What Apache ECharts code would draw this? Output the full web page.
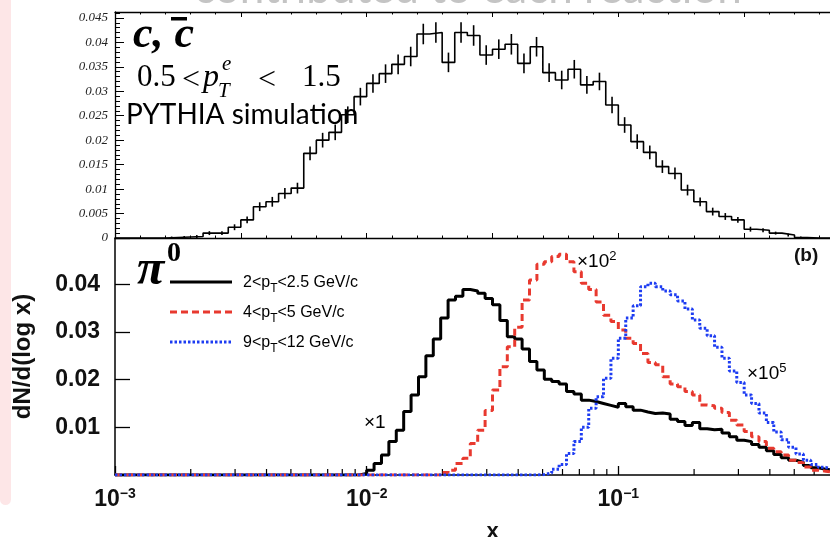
<!DOCTYPE html>
<html><head><meta charset="utf-8">
<script src="https://cdn.jsdelivr.net/npm/echarts@6/dist/echarts.min.js"></script>
<style>html,body{margin:0;padding:0;background:#fff}#c{width:830px;height:537px}</style>
</head><body><div id="c"></div>
<script>
// ---------- top panel (c, c-bar, PYTHIA): 60 bins of width 0.1 on [0, 6]
const topBinWidth = 0.1;
const topValues = [0,0,0,0,0.0001,0.0002,0.0003,0.0010,0.0010,0.0022,0.0037,0.0064,0.0074,0.0091,0.0102,
  0.0173,0.0200,0.0216,0.0252,0.0289,0.0316,0.0336,0.0355,0.0371,0.0417,0.0420,0.0359,0.0420,0.0414,0.0374,
  0.0386,0.0396,0.0357,0.0391,0.0338,0.0323,0.0345,0.0313,0.0320,0.0272,0.0231,0.0197,0.0175,0.0146,0.0132,
  0.0098,0.0074,0.0054,0.0044,0.0037,0.0018,0.0016,0.0010,0.0006,0.0001,0,0,0,0,0];
const topErrors = [0,0,0,0,0.0002,0.0002,0.0003,0.0004,0.0004,0.0006,0.0007,0.0009,0.0010,0.0011,0.0011,
  0.0014,0.0015,0.0016,0.0017,0.0018,0.0019,0.0019,0.0020,0.0020,0.0021,0.0021,0.0020,0.0021,0.0021,0.0020,
  0.0020,0.0021,0.0020,0.0020,0.0019,0.0019,0.0019,0.0018,0.0018,0.0017,0.0016,0.0015,0.0014,0.0013,0.0012,
  0.0011,0.0009,0.0008,0.0007,0.0006,0.0005,0.0004,0.0003,0.0003,0.0002,0,0,0,0,0];

// ---------- bottom panel (pi0): bins of 1/34 decade starting at x = 1e-3
const binsPerDecade = 34;
const blackStart = 33;
const blackValues = [0.0003,0.0010,0.0024,0.0042,0.0070,0.0094,0.0133,0.0168,0.0206,0.0250,0.0285,0.0329,0.0367,
  0.0375,0.0389,0.0386,0.0381,0.0370,0.0357,0.0324,0.0290,0.0285,0.0264,0.0238,0.0220,0.0201,0.0196,0.0191,
  0.0175,0.0170,0.0157,0.0154,0.0150,0.0146,0.0142,0.0150,0.0143,0.0136,0.0132,0.0129,0.0130,0.0128,0.0117,
  0.0112,0.0104,0.0110,0.0097,0.0095,0.0096,0.0088,0.0080,0.0073,0.0070,0.0064,0.0058,0.0051,0.0043,0.0036,
  0.0031,0.0027,0.0020,0.0015,0.0012,0.0010];
const redStart = 44;
const redValues = [0.0005,0.0010,0.0024,0.0035,0.0066,0.0094,0.0135,0.0178,0.0227,0.0269,0.0310,0.0367,0.0409,
  0.0442,0.0447,0.0458,0.0463,0.0447,0.0426,0.0402,0.0389,0.0363,0.0335,0.0322,0.0304,0.0287,0.0276,0.0255,
  0.0236,0.0231,0.0206,0.0191,0.0185,0.0175,0.0168,0.0147,0.0145,0.0140,0.0131,0.0115,0.0105,0.0091,0.0080,
  0.0070,0.0056,0.0049,0.0042,0.0031,0.0026,0.0017,0.0010,0.0008,0.0006];
const blueStart = 57;
const blueValues = [0.0001,0.0004,0.0012,0.0022,0.0045,0.0070,0.0100,0.0140,0.0164,0.0203,0.0245,0.0287,0.0329,
  0.0355,0.0395,0.0402,0.0395,0.0386,0.0378,0.0365,0.0348,0.0325,0.0308,0.0292,0.0268,0.0245,0.0218,0.0194,
  0.0168,0.0150,0.0130,0.0110,0.0090,0.0074,0.0058,0.0044,0.0031,0.0022,0.0016,0.0012];
const minorTickX = [0.002,0.003,0.004,0.005,0.006,0.007,0.008,0.009,0.02,0.03,0.04,0.05,0.06,0.07,0.08,0.09,0.2,0.3,0.4,0.5,0.6];
const seriesNames = ['2<p_T<2.5 GeV/c','4<p_T<5 GeV/c','9<p_T<12 GeV/c'];

const RED = '#e8392f', BLUE = '#1d3cf2';

function histLog(start, vals) {
  const n = start + vals.length, pts = [];
  for (let k = 0; k < n; k++) pts.push([Math.pow(10, -3 + k / binsPerDecade), k < start ? 0 : vals[k - start]]);
  pts.push([Math.pow(10, -3 + n / binsPerDecade), vals[vals.length - 1]]);
  return pts;
}
const topHist = topValues.map((v, k) => [k * topBinWidth, v]);
topHist.push([topValues.length * topBinWidth, topValues[topValues.length - 1]]);
const topErr = [];
topValues.forEach((v, k) => { if (v > 0) topErr.push([(k + 0.5) * topBinWidth, v, topErrors[k]]); });

const chart = echarts.init(document.getElementById('c'), null, {renderer: 'canvas'});
const axLine = {lineStyle: {color: '#000', width: 1.3}};
function legText(s) { const p = s.split('_'); return '{n|' + p[0] + '}{s|' + p[1][0] + '}{n|' + p[1].slice(1) + '}'; }
const legRich = {n: {fontFamily: 'Liberation Sans', fontSize: 16, color: '#111'}, s: {fontFamily: 'Liberation Sans', fontSize: 12, color: '#111', padding: [11, 0, 0, 0]}};
const shadow = {shadowBlur: 4, shadowColor: 'rgba(0,0,0,0.55)', shadowOffsetX: 2, shadowOffsetY: 2};

chart.setOption({
  animation: false,
  backgroundColor: '#fff',
  grid: [
    {left: 115, right: -40, top: 12, height: 226, containLabel: false, outerBoundsMode: 'none'},
    {left: 115, right: -40, top: 238, height: 237, containLabel: false, outerBoundsMode: 'none'}
  ],
  xAxis: [
    {gridIndex: 0, type: 'value', min: 0, max: 6, interval: 1, position: 'bottom', axisLine: axLine,
     axisTick: {inside: true, length: 5, lineStyle: {color: '#000'}}, minorTick: {show: true, splitNumber: 5, length: 2.5, lineStyle: {color: '#000'}},
     axisLabel: {show: false}, splitLine: {show: false}},
    {gridIndex: 0, type: 'value', min: 0, max: 6, interval: 1, position: 'top', axisLine: axLine,
     axisTick: {inside: true, length: 5, lineStyle: {color: '#000'}}, minorTick: {show: true, splitNumber: 5, length: 2.5, lineStyle: {color: '#000'}},
     axisLabel: {show: false}, splitLine: {show: false}},
    {gridIndex: 1, type: 'log', logBase: 10, min: 0.001, max: 1, position: 'bottom', axisLine: {lineStyle: {color: '#000', width: 1.5}},
     axisTick: {inside: true, length: 9, lineStyle: {color: '#000', width: 1.3}},
     axisLabel: {margin: 12, formatter: v => '{a|10}{b|' + String(Math.round(Math.log10(v))).replace('-', '−') + '}',
       rich: {a: {fontFamily: 'Liberation Sans', fontWeight: 'bold', fontSize: 23, color: '#111'},
              b: {fontFamily: 'Liberation Sans', fontWeight: 'bold', fontSize: 14, color: '#111', padding: [0, 0, 12, 0]}}},
     splitLine: {show: false}, minorTick: {show: false},
     name: 'x', nameLocation: 'middle', nameGap: 46,
     nameTextStyle: {fontFamily: 'Liberation Sans', fontWeight: 'bold', fontSize: 22, color: '#111'}}
  ],
  yAxis: [
    {gridIndex: 0, type: 'value', min: 0, max: 0.0462, interval: 0.005, axisLine: axLine,
     axisTick: {inside: true, length: 9, lineStyle: {color: '#000'}}, minorTick: {show: true, splitNumber: 5, length: 5, lineStyle: {color: '#000'}},
     axisLabel: {margin: 7, fontFamily: 'Liberation Serif', fontStyle: 'italic', fontSize: 13, color: '#222',
       formatter: v => v > 0.0455 ? '' : String(+v.toFixed(3))}, splitLine: {show: false}},
    {gridIndex: 1, type: 'value', min: 0, max: 0.0497, interval: 0.01, axisLine: {lineStyle: {color: '#000', width: 1.5}},
     axisTick: {inside: true, length: 15, lineStyle: {color: '#000', width: 1.3}},
     axisLabel: {margin: 15, formatter: v => (v === 0 || v > 0.045) ? '' : v.toFixed(2), fontFamily: 'Liberation Sans', fontWeight: 'bold', fontSize: 23, color: '#111'},
     splitLine: {show: false},
     name: 'dN/d(log x)', nameLocation: 'middle', nameGap: 80, nameRotate: 90,
     nameTextStyle: {fontFamily: 'Liberation Sans', fontWeight: 'bold', fontSize: 24, color: '#111'}}
  ],
  series: [
    {type: 'line', xAxisIndex: 0, yAxisIndex: 0, step: 'end', symbol: 'none', data: topHist,
     lineStyle: {color: '#000', width: 1.6}, z: 3},
    {type: 'custom', xAxisIndex: 0, yAxisIndex: 0, data: topErr, z: 3,
     renderItem: (params, api) => {
       const x = api.value(0), v = api.value(1), e = api.value(2);
       const a = api.coord([x, v - e]), b = api.coord([x, v + e]);
       return {type: 'line', shape: {x1: a[0], y1: a[1], x2: b[0], y2: b[1]}, style: {stroke: '#000', lineWidth: 1.6}};
     }},
    {name: seriesNames[0], type: 'line', xAxisIndex: 2, yAxisIndex: 1, step: 'end', symbol: 'none', data: histLog(blackStart, blackValues),
     lineStyle: {color: '#000', width: 3}, z: 3},
    {name: seriesNames[1], type: 'line', xAxisIndex: 2, yAxisIndex: 1, step: 'end', symbol: 'none', data: histLog(redStart, redValues),
     lineStyle: {color: RED, width: 3, type: [7, 4]}, z: 4},
    {name: seriesNames[2], type: 'line', xAxisIndex: 2, yAxisIndex: 1, step: 'end', symbol: 'none', data: histLog(blueStart, blueValues),
     lineStyle: {color: BLUE, width: 3, type: [2.5, 2]}, z: 5},
    {type: 'custom', xAxisIndex: 2, yAxisIndex: 1, data: minorTickX.map(x => [x, 0]), z: 2,
     renderItem: (params, api) => {
       const p = api.coord([api.value(0), 0]);
       return {type: 'line', shape: {x1: p[0], y1: p[1], x2: p[0], y2: p[1] - 6}, style: {stroke: '#000', lineWidth: 1.2}};
     }}
  ],
  graphic: [
    {type: 'rect', left: 0, top: 0, shape: {width: 11, height: 505, r: [0, 0, 6, 6]}, style: {fill: '#fde6e7'}, z: -10},
    {type: 'text', x: 468, y: -11, style: {text: 'contributed to each reaction', font: '44px Lato', fill: '#c4c4c4', align: 'center', verticalAlign: 'middle'}},
    // c, c-bar
    {type: 'text', x: 133, y: 36, style: Object.assign({text: 'c, c', font: 'italic bold 44px "Liberation Serif"', fill: '#000', verticalAlign: 'middle'}, shadow)},
    {type: 'rect', shape: {x: 171, y: 17, width: 16, height: 3.5}, style: {fill: '#000'}},
    {type: 'text', x: 137, y: 78, style: {text: '0.5', font: '31px "Liberation Serif"', fill: '#000', verticalAlign: 'middle'}},
    {type: 'text', x: 182, y: 81, style: {text: '<', font: '32px "Liberation Serif"', fill: '#000', verticalAlign: 'middle'}},
    {type: 'text', x: 203, y: 78, style: {text: 'p', font: 'italic 32px "Liberation Serif"', fill: '#000', verticalAlign: 'middle'}},
    {type: 'text', x: 218, y: 91, style: {text: 'T', font: 'italic 21px "Liberation Serif"', fill: '#000', verticalAlign: 'middle'}},
    {type: 'text', x: 222, y: 64, style: {text: 'e', font: 'italic 21px "Liberation Serif"', fill: '#000', verticalAlign: 'middle'}},
    {type: 'text', x: 258, y: 81, style: {text: '<', font: '32px "Liberation Serif"', fill: '#000', verticalAlign: 'middle'}},
    {type: 'text', x: 302, y: 78, style: {text: '1.5', font: '31px "Liberation Serif"', fill: '#000', verticalAlign: 'middle'}},
    {type: 'text', x: 126, y: 115, style: {text: 'PYTHIA simulation', font: '28px Lato', fill: '#000', verticalAlign: 'middle'}},
    // pi0
    {type: 'text', x: 137, y: 271, style: Object.assign({text: 'π', font: 'italic bold 50px "Liberation Serif"', fill: '#000', verticalAlign: 'middle'}, shadow)},
    {type: 'text', x: 167, y: 254, style: Object.assign({text: '0', font: 'bold 28px "Liberation Serif"', fill: '#000', verticalAlign: 'middle'}, shadow)},
    // legend
    {type: 'line', shape: {x1: 170, y1: 282, x2: 232, y2: 282}, style: {stroke: '#000', lineWidth: 3}},
    {type: 'line', shape: {x1: 170, y1: 312, x2: 232, y2: 312}, style: {stroke: RED, lineWidth: 3, lineDash: [7, 4]}},
    {type: 'line', shape: {x1: 170, y1: 342, x2: 232, y2: 342}, style: {stroke: BLUE, lineWidth: 3, lineDash: [2.5, 2]}},
    {type: 'text', x: 243, y: 283, style: {text: legText(seriesNames[0]), rich: legRich, verticalAlign: 'middle'}},
    {type: 'text', x: 243, y: 313, style: {text: legText(seriesNames[1]), rich: legRich, verticalAlign: 'middle'}},
    {type: 'text', x: 243, y: 343, style: {text: legText(seriesNames[2]), rich: legRich, verticalAlign: 'middle'}},
    // scale factors
    {type: 'text', x: 364, y: 423, style: {text: '{x|×}{n|1}', verticalAlign: 'middle',
      rich: {x: {fontFamily: 'Liberation Sans', fontSize: 19, color: '#888'}, n: {fontFamily: 'Liberation Sans', fontSize: 19, color: '#333'}}}},
    {type: 'text', x: 577, y: 262, style: {text: '{x|×}{n|10}{s|2}', verticalAlign: 'middle',
      rich: {x: {fontFamily: 'Liberation Sans', fontSize: 19, color: '#f08080'}, n: {fontFamily: 'Liberation Sans', fontSize: 19, color: RED},
             s: {fontFamily: 'Liberation Sans', fontSize: 13, color: RED, padding: [0, 0, 11, 0]}}}},
    {type: 'text', x: 747, y: 374, style: {text: '{x|×}{n|10}{s|5}', verticalAlign: 'middle',
      rich: {x: {fontFamily: 'Liberation Sans', fontSize: 19, color: '#7f8cf0'}, n: {fontFamily: 'Liberation Sans', fontSize: 19, color: '#3347e8'},
             s: {fontFamily: 'Liberation Sans', fontSize: 13, color: '#3347e8', padding: [0, 0, 11, 0]}}}},
    {type: 'text', x: 794, y: 256, style: {text: '(b)', font: 'bold 19px "Liberation Sans"', fill: '#111', verticalAlign: 'middle'}}
  ]
});
</script></body></html>
